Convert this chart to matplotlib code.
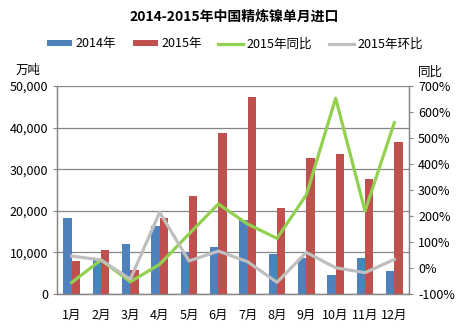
import matplotlib.pyplot as plt
import numpy as np

plt.rcParams['font.family'] = ['Noto Sans CJK SC', 'DejaVu Sans']

months = ['1月', '2月', '3月', '4月', '5月', '6月', '7月', '8月', '9月', '10月', '11月', '12月']
imports_2014 = [18300, 8200, 12000, 16400, 10000, 11300, 17800, 9600, 8600, 4600, 8600, 5500]
imports_2015 = [7900, 10600, 5800, 18300, 23600, 38800, 47400, 20700, 32800, 33700, 27600, 36600]
yoy_2015 = [-56, 31, -53, 14, 131, 246, 169, 114, 281, 653, 219, 559]
mom_2015 = [46, 31, -43, 214, 27, 65, 24, -55, 60, 1, -18, 33]

blue = '#4F81BD'
red = '#C0504D'
green = '#92D050'
gray = '#BFBFBF'

fig = plt.figure(figsize=(4.68, 3.31), dpi=100)
ax = fig.add_axes([57 / 468, 37 / 331, 352 / 468, 208 / 331])
ax2 = ax.twinx()

x = np.arange(len(months))
w = 0.285
ax.bar(x - w / 2, imports_2014, w, color=blue, label='2014年', zorder=2)
ax.bar(x + w / 2, imports_2015, w, color=red, label='2015年', zorder=2)

ax2.plot(x, yoy_2015, color=green, lw=2.3, label='2015年同比')
ax2.plot(x, mom_2015, color=gray, lw=2.3, label='2015年环比')

ax.set_xlim(-0.5, len(months) - 0.5)
ax.set_ylim(0, 50000)
ax.set_yticks(np.arange(0, 50001, 10000))
ax.set_yticklabels([f'{v:,}' for v in range(0, 50001, 10000)])
ax.grid(axis='y', color='#868686', lw=0.9, zorder=0)
ax.set_axisbelow(True)
ax.set_xticks(x)
ax.set_xticklabels(months)

ax2.set_ylim(-100, 700)
ax2.set_yticks(np.arange(-100, 701, 100))
ax2.set_yticklabels([f'{v}%' for v in range(-100, 701, 100)])

for a in (ax, ax2):
    for s in a.spines.values():
        s.set_color('#868686')
        s.set_linewidth(0.9)
    a.spines['top'].set_visible(False)
    a.tick_params(labelsize=9, colors='#868686', labelcolor='black', length=3)
ax.tick_params(axis='x', length=0, pad=11)
ax.tick_params(axis='y', direction='out')
ax2.tick_params(axis='y', direction='out')

fig.text(0.5, 1 - 17 / 331, '2014-2015年中国精炼镍单月进口', ha='center', va='center',
         fontsize=10, fontweight='bold')
fig.text(28 / 468, 1 - 70 / 331, '万吨', ha='center', va='center', fontsize=9)
fig.text(430 / 468, 1 - 72 / 331, '同比', ha='center', va='center', fontsize=9)

h1, l1 = ax.get_legend_handles_labels()
h2, l2 = ax2.get_legend_handles_labels()
fig.legend(h1 + h2, l1 + l2, loc='center', bbox_to_anchor=(235 / 468, 1 - 44 / 331), ncol=4,
           frameon=False, fontsize=9, handlelength=2.0, handleheight=0.45,
           columnspacing=1.3, handletextpad=0.3)

fig.savefig('out.png', dpi=100)
